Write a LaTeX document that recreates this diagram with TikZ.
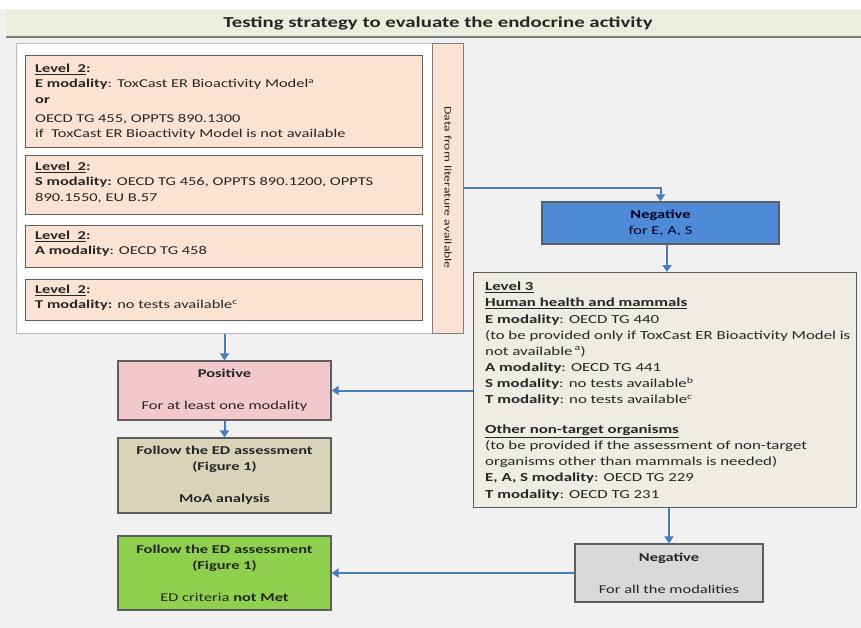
\documentclass[tikz,border=0pt]{standalone}
\usepackage{fontspec}
\setmainfont{Carlito}[FakeStretch=1.37]
\usetikzlibrary{arrows.meta}
\definecolor{bgc}{HTML}{F1F1F1}
\definecolor{titlec}{HTML}{E9EEDD}
\definecolor{peach}{HTML}{FBE3D3}
\definecolor{edgec}{HTML}{5E5E5E}
\definecolor{bluec}{HTML}{4F8AD6}
\definecolor{tanl}{HTML}{EFEDE3}
\definecolor{pinkc}{HTML}{F3C8CC}
\definecolor{tand}{HTML}{D9D4B9}
\definecolor{greenc}{HTML}{8FD04E}
\definecolor{grayc}{HTML}{D9D9D9}
\definecolor{arrowc}{HTML}{4A7EBB}
\definecolor{txtc}{HTML}{262626}
\begin{document}
\begin{tikzpicture}[x=1pt,y=-1pt,
  box/.style={draw=edgec, line width=1.2pt, rectangle, inner sep=0pt, anchor=north west, text=txtc},
  ltxt/.style={anchor=north west, align=left, inner sep=0pt, text=txtc, font=\fontsize{12}{15.3}\selectfont},
  ctxt/.style={align=center, font=\fontsize{12}{16}\selectfont},
  conn/.style={draw=arrowc, line width=2pt, -{Triangle[length=7pt,width=9pt]}}
]
\useasboundingbox (0,0) rectangle (861,628);
\fill[bgc] (0,0) rectangle (861,628);
\fill[white] (0,0) rectangle (861,9);
% title
\node[anchor=north west, fill=titlec, minimum width=855pt, minimum height=28pt, inner sep=0pt] (title) at (6,9) {};
\draw[edgec!80, line width=2pt] (title.south west) -- (title.south east);
\node[font=\fontsize{15.2}{18}\selectfont\bfseries, text=txtc] (titletext) at (438,23) {Testing strategy to evaluate the endocrine activity};
% container
\node[box, draw=gray!55, line width=1pt, fill=white, minimum width=416pt, minimum height=290pt] (cont) at (16,43) {};
\node[box, draw=edgec!80, line width=1pt, fill=peach, minimum width=31pt, minimum height=290pt] (strip) at (432,43) {};
\node[rotate=-90, font=\fontsize{10}{12}\selectfont, text=txtc] (striptext) at ([yshift=1pt]strip.center) {Data from literature available};
% level 2 boxes
\node[box, fill=peach, minimum width=397pt, minimum height=92pt] (b1) at (25,55) {};
\node[ltxt] (t1) at ([xshift=10pt,yshift=-9pt]b1.north west) {\underline{\textbf{Level~~2}}\textbf{:}\\
\textbf{E modality}: ToxCast ER Bioactivity Model\textsuperscript{a}\\
\textbf{or}\\[4pt]
OECD TG 455, OPPTS 890.1300\\
if~ ToxCast ER Bioactivity Model is not available};
\node[box, fill=peach, minimum width=397pt, minimum height=59pt] (b2) at (25,155) {};
\node[ltxt] (t2) at ([xshift=10pt,yshift=-7pt]b2.north west) {\underline{\textbf{Level~~2}}\textbf{:}\\
\textbf{S modality:} OECD TG 456, OPPTS 890.1200, OPPTS\\
890.1550, EU B.57};
\node[box, fill=peach, minimum width=397pt, minimum height=42pt] (b3) at (25,225) {};
\node[ltxt] (t3) at ([xshift=10pt,yshift=-6pt]b3.north west) {\underline{\textbf{Level~~2}}\textbf{:}\\
\textbf{A modality}: OECD TG 458};
\node[box, fill=peach, minimum width=397pt, minimum height=41pt] (b4) at (25,279) {};
\node[ltxt] (t4) at ([xshift=10pt,yshift=-6pt]b4.north west) {\underline{\textbf{Level~~2}}\textbf{:}\\
\textbf{T modality:} no tests available\textsuperscript{c}};
% right column
\node[box, fill=bluec, minimum width=237pt, minimum height=42pt, anchor=center, ctxt, text=black!85!blue] (negeas) at (660.5,223) {\textbf{Negative}\\for E, A, S};
\node[box, fill=tanl, minimum width=383pt, minimum height=235pt] (l3) at (473,272) {};
\node[ltxt, font=\fontsize{12.3}{16.1}\selectfont] (t3l) at ([xshift=12pt,yshift=-10pt]l3.north west) {\underline{\textbf{Level 3}}\\
\underline{\textbf{Human health and mammals}}\\
\textbf{E modality}: OECD TG 440\\
(to be provided only if ToxCast ER Bioactivity Model is\\
not available\,\textsuperscript{a})\\
\textbf{A modality}: OECD TG 441\\
\textbf{S modality}: no tests available\textsuperscript{b}\\
\textbf{T modality}: no tests available\textsuperscript{c}\\[14pt]
\underline{\textbf{Other non-target organisms}}\\
(to be provided if the assessment of non-target\\
organisms other than mammals is needed)\\
\textbf{E, A, S modality}: OECD TG 229\\
\textbf{T modality}: OECD TG 231};
\node[box, fill=grayc, minimum width=188pt, minimum height=58pt, anchor=center, ctxt] (negall) at (669,573) {\textbf{Negative}\\[16pt]For all the modalities};
% left column
\node[box, fill=pinkc, minimum width=213pt, minimum height=59pt, anchor=center, ctxt] (pos) at (224.5,390.5) {\textbf{Positive}\\[16pt]For at least one modality};
\node[box, fill=tand, minimum width=213pt, minimum height=75pt, anchor=center, ctxt] (moa) at (224.5,475.5) {\textbf{Follow the ED assessment}\\\textbf{(Figure 1)}\\[16pt]\textbf{MoA analysis}};
\node[box, fill=greenc, minimum width=213pt, minimum height=74pt, anchor=center, ctxt] (green) at (224.5,573) {\textbf{Follow the ED assessment}\\\textbf{(Figure 1)}\\[16pt]ED criteria \textbf{not Met}};
% connectors
\draw[conn] (strip.east) -| (negeas.north);
\draw[conn] (negeas.south -| 667,0) -- (l3.north -| 667,0);
\draw[conn] (l3.south -| negall.north) -- (negall.north);
\draw[conn] (negall.west) -- (green.east);
\draw[conn] (l3.west |- pos.east) -- (pos.east);
\draw[conn] (cont.south -| pos.north) -- (pos.north);
\draw[conn] (pos.south) -- (moa.north);
\end{tikzpicture}
\end{document}
